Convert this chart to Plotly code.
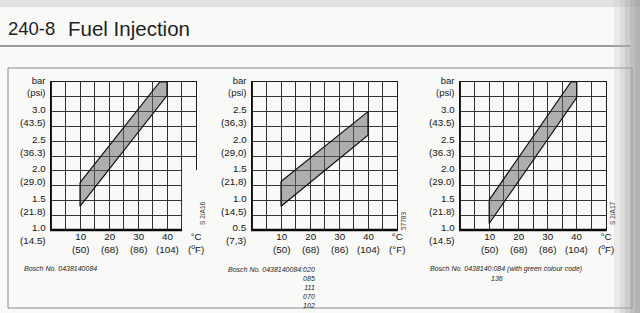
import plotly.graph_objects as go

W, H = 640, 313

# ---------------- data ----------------
temp_ticks = [10, 20, 30, 40]
temp_f_labels = ["(50)", "(68)", "(86)", "(104)"]

c1_vals = [1.0, 1.5, 2.0, 2.5, 3.0]
c1_bar = ["1.0", "1.5", "2.0", "2.5", "3.0"]
c1_psi = ["(14.5)", "(21.8)", "(29.0)", "(36.3)", "(43.5)"]

c2_vals = [0.5, 1.0, 1.5, 2.0, 2.5]
c2_bar = ["0.5", "1.0", "1.5", "2.0", "2.5"]
c2_psi = ["(7,3)", "(14,5)", "(21,8)", "(29,0)", "(36,3)"]

c3_vals = [1.0, 1.5, 2.0, 2.5, 3.0]
c3_bar = ["1.0", "1.5", "2.0", "2.5", "3.0"]
c3_psi = ["(14.5)", "(21.8)", "(29.0)", "(36.3)", "(43.5)"]

# control pressure bands (temperature degC, pressure bar)
c1_upper_t = [10, 37.5, 40]
c1_upper_p = [1.8, 3.5, 3.5]
c1_lower_t = [10, 40]
c1_lower_p = [1.4, 3.27]

c2_upper_t = [10, 40]
c2_upper_p = [1.32, 2.5]
c2_lower_t = [10, 40]
c2_lower_p = [0.9, 2.1]

c3_upper_t = [10, 38, 40]
c3_upper_p = [1.51, 3.5, 3.5]
c3_lower_t = [10, 40]
c3_lower_p = [1.11, 3.24]

captions1 = ["Bosch No. 0438140084"]
captions2 = ["Bosch No. 0438140084:020", "085", "111", "070", "102"]
captions3 = ["Bosch No. 0438140:084 (with green colour code)", "136"]
fig_codes = ["S 2/A16", "57783", "S 2/A17"]

# ---------------- layout geometry (pixels) ----------------
charts = [
    dict(x0=51, x1=196, ymin=1.0, ymax=3.5, vals=c1_vals, bar=c1_bar, psi=c1_psi,
         ut=c1_upper_t, up=c1_upper_p, lt=c1_lower_t, lp=c1_lower_p, fsup=True),
    dict(x0=252, x1=397, ymin=0.5, ymax=3.0, vals=c2_vals, bar=c2_bar, psi=c2_psi,
         ut=c2_upper_t, up=c2_upper_p, lt=c2_lower_t, lp=c2_lower_p, fsup=False),
    dict(x0=460, x1=606, ymin=1.0, ymax=3.5, vals=c3_vals, bar=c3_bar, psi=c3_psi,
         ut=c3_upper_t, up=c3_upper_p, lt=c3_lower_t, lp=c3_lower_p, fsup=True),
]
YTOP, YBOT = 82, 230  # pixel rows of plot top / bottom


def px(x):
    return x / W


def py(y):
    return 1 - y / H


FONT = "Liberation Sans, Arial, sans-serif"
GRID = "#333333"
BG = "#f9f9f8"
LBL = dict(size=9.8, color="#151515", family=FONT)

fig = go.Figure()
shapes = []
annotations = []

for i, c in enumerate(charts):
    n = "" if i == 0 else str(i + 1)
    xa, ya = "xaxis" + n, "yaxis" + n
    xr, yr = "x" + n, "y" + n

    def X(t, c=c):
        return c["x0"] + (c["x1"] - c["x0"]) * t / 50.0

    def Y(p, c=c):
        return YBOT - (YBOT - YTOP) * (p - c["ymin"]) / (c["ymax"] - c["ymin"])

    # band polygon
    bx = list(c["ut"]) + list(reversed(c["lt"])) + [c["ut"][0]]
    by = list(c["up"]) + list(reversed(c["lp"])) + [c["up"][0]]
    fig.add_trace(go.Scatter(x=bx, y=by, xaxis=xr, yaxis=yr, mode="lines",
                             fill="toself", fillcolor="rgba(100,100,100,0.5)",
                             line=dict(color="#111", width=1.2),
                             hoverinfo="skip", showlegend=False))

    ygrid = [c["ymin"] + 0.25 * k for k in range(11)]
    fig.update_layout(**{
        xa: dict(domain=[px(c["x0"]), px(c["x1"])], range=[0, 50],
                 tickvals=list(range(0, 55, 5)), showticklabels=False, ticks="",
                 showgrid=True, gridcolor=GRID, gridwidth=1, zeroline=False,
                 showline=True, mirror=True, linecolor="#1c1c1c", linewidth=1,
                 anchor=yr, fixedrange=True),
        ya: dict(domain=[py(YBOT), py(YTOP)], range=[c["ymin"], c["ymax"]],
                 tickvals=ygrid, showticklabels=False, ticks="",
                 showgrid=True, gridcolor=GRID, gridwidth=1, zeroline=False,
                 showline=True, mirror=True, linecolor="#1c1c1c", linewidth=1,
                 anchor=xr, fixedrange=True),
    })

    # chart 1 lower right cut-out (room for figure code)
    xend = 50
    if i == 0:
        shapes.append(dict(type="rect", xref="paper", yref="paper",
                           x0=px(X(45) + 0.8), x1=px(X(50) + 2),
                           y0=py(YBOT + 3), y1=py(Y(2.0) - 0.8),
                           fillcolor=BG, line=dict(width=0), layer="above"))
        xend = 45
    # heavy base line and left axis
    shapes.append(dict(type="line", xref="paper", yref="paper",
                       x0=px(X(0) - 1), x1=px(X(xend) + 0.5), y0=py(YBOT), y1=py(YBOT),
                       line=dict(color="#0a0a0a", width=2.4), layer="above"))
    shapes.append(dict(type="line", xref="paper", yref="paper",
                       x0=px(X(0)), x1=px(X(0)), y0=py(YBOT), y1=py(YTOP),
                       line=dict(color="#0a0a0a", width=1.8), layer="above"))

    # x tick labels (two lines: degC / degF)
    xl = [(str(t), f) for t, f in zip(temp_ticks, temp_f_labels)]
    xl.append(("°C", "(<sup>o</sup>F)" if c["fsup"] else "(°F)"))
    for k, (a, b) in enumerate(xl):
        t = temp_ticks[k] if k < len(temp_ticks) else 50
        annotations.append(dict(x=px(X(t)), y=py(243.5), xref="paper", yref="paper",
                                text=a + "<br>" + b, showarrow=False, xanchor="center",
                                yanchor="middle", align="center", font=LBL))

    # y tick labels (two lines: bar / psi)
    for v, b, p in zip(c["vals"], c["bar"], c["psi"]):
        annotations.append(dict(x=px(X(0) - 3), y=py(Y(v) + 4.3), xref="paper", yref="paper",
                                text=b + "<br>" + p, showarrow=False, xanchor="right",
                                yanchor="middle", align="right", font=LBL))
    annotations.append(dict(x=px(X(0) - 4), y=py(86.5), xref="paper", yref="paper",
                            text="bar<br>(psi)", showarrow=False, xanchor="right",
                            yanchor="middle", align="right",
                            font=dict(size=9.5, color="#1a1a1a", family=FONT)))

# figure codes (rotated)
for code, (cx, cy) in zip(fig_codes, [(202, 213), (403, 221), (612, 213)]):
    annotations.append(dict(x=px(cx), y=py(cy), xref="paper", yref="paper", text=code,
                            textangle=-90, showarrow=False, xanchor="center", yanchor="middle",
                            font=dict(size=6.5, color="#333", family=FONT)))

# captions
cap_font = dict(size=7, color="#222", family=FONT, style="italic")
annotations.append(dict(x=px(22), y=py(268), xref="paper", yref="paper", text=captions1[0],
                        showarrow=False, xanchor="left", yanchor="middle", font=cap_font))
annotations.append(dict(x=px(317), y=py(263.5), xref="paper", yref="paper",
                        text="<br>".join(captions2), showarrow=False, xanchor="right",
                        yanchor="top", align="right", font=cap_font))
annotations.append(dict(x=px(428), y=py(269), xref="paper", yref="paper",
                        text=captions3[0], showarrow=False, xanchor="left",
                        yanchor="middle", font=cap_font))
annotations.append(dict(x=px(497), y=py(278.5), xref="paper", yref="paper",
                        text=captions3[1], showarrow=False, xanchor="center",
                        yanchor="middle", font=cap_font))

# page title
annotations.append(dict(x=px(6), y=py(29), xref="paper", yref="paper", text="240-8",
                        showarrow=False, xanchor="left", yanchor="middle",
                        font=dict(size=18.5, color="#1e1e1e", family=FONT)))
annotations.append(dict(x=px(66), y=py(29), xref="paper", yref="paper", text="Fuel Injection",
                        showarrow=False, xanchor="left", yanchor="middle",
                        font=dict(size=20.5, color="#1e1e1e", family=FONT)))

# page decorations: title rule, figure frame, scan shading
page_shapes = [
    dict(type="rect", xref="paper", yref="paper", x0=0, x1=1, y0=py(7), y1=1,
         fillcolor="#e2e2e2", line=dict(width=0), layer="below"),
    dict(type="line", xref="paper", yref="paper", x0=0, x1=px(630), y0=py(46), y1=py(46),
         line=dict(color="#3a3a3a", width=1.2), layer="below"),
    dict(type="rect", xref="paper", yref="paper", x0=px(8), x1=px(632), y0=py(308), y1=py(68),
         fillcolor="rgba(0,0,0,0)", line=dict(color="#8a8a8a", width=1), layer="below"),
]
for x0, x1, col in [(614, 620, "rgba(200,200,200,0.3)"), (620, 625, "rgba(185,185,185,0.45)"),
                    (625, 630, "rgba(170,170,170,0.55)"), (630, 635, "rgba(160,160,160,0.65)"),
                    (635, 640, "rgba(150,150,150,0.7)")]:
    page_shapes.append(dict(type="rect", xref="paper", yref="paper", x0=px(x0), x1=px(x1),
                            y0=0, y1=1, fillcolor=col, line=dict(width=0), layer="above"))

fig.update_layout(
    width=W, height=H, margin=dict(l=0, r=0, t=0, b=0),
    paper_bgcolor=BG, plot_bgcolor="rgba(0,0,0,0)",
    showlegend=False, shapes=page_shapes + shapes, annotations=annotations,
)

fig.write_html("out.html", config={"displayModeBar": False})
